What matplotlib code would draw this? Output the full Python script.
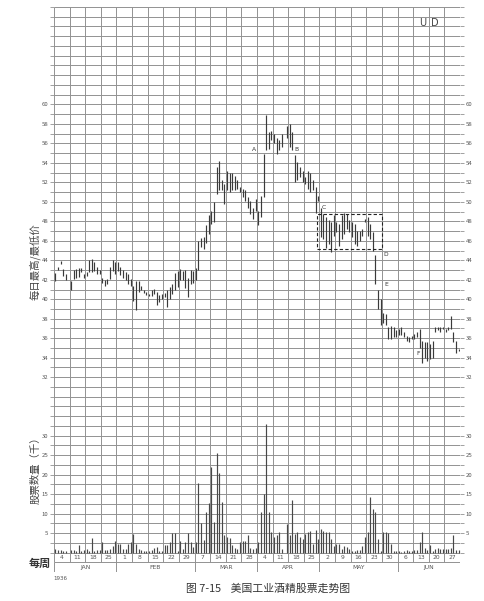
import numpy as np
import matplotlib
matplotlib.use("Agg")
import matplotlib.pyplot as plt

plt.rcParams['font.family'] = ['Noto Sans CJK SC', 'DejaVu Sans']

# trading days counted from Mon 30 Dec 1935, 6 slots per week (Mon..Sat)
day = [0, 1, 2, 3, 4,
       6, 7, 8, 9, 10, 11,
       12, 13, 14, 15, 16, 17,
       18, 19, 20, 21, 22, 23,
       24, 25, 26, 27, 28, 29,
       30, 31, 32, 33, 34, 35,
       36, 37, 38, 39, 40, 41,
       42, 43, 44, 45, 46, 47,
       48, 49, 50, 51, 52, 53,
       54, 55, 56, 57, 58, 59,
       60, 61, 62, 63, 64, 65,
       66, 67, 68, 69, 70, 71,
       72, 73, 74, 75, 76, 77,
       78, 79, 80, 81, 82, 83,
       84, 85, 86, 87, 89,
       90, 91, 92, 93, 94, 95,
       96, 97, 98, 99, 100, 101,
       102, 103, 104, 105, 106, 107,
       108, 109, 110, 111, 112, 113,
       114, 115, 116, 117, 118, 119,
       120, 121, 122, 123, 124, 125,
       126, 127, 128, 129, 130, 131,
       132, 133, 134, 135, 136, 137,
       138, 139, 140, 141, 142, 143,
       144, 145, 146, 147, 148, 149,
       150, 151, 152, 153, 154, 155]

high = [42.7, 43.3, 43.9, 43.1, 42.6,
        41.9, 43.0, 43.1, 43.2, 43.2, 42.6,
        42.8, 44.0, 44.1, 43.8, 43.3, 43.0,
        42.2, 42.0, 42.1, 43.3, 44.0, 43.8,
        43.8, 43.3, 43.0, 42.8, 42.6, 42.1,
        41.4, 41.9, 41.9, 41.4, 41.0, 40.7,
        40.5, 40.9, 41.1, 40.7, 40.4, 40.5,
        40.6, 40.9, 41.3, 41.6, 42.7, 42.9,
        43.1, 42.9, 43.0, 42.2, 43.0, 42.9,
        43.2, 46.0, 46.3, 46.4, 47.6, 48.6,
        49.1, 50.0, 53.6, 54.2, 52.2, 51.8,
        53.2, 53.0, 53.0, 52.7, 52.2, 51.5,
        51.3, 51.2, 50.5, 50.1, 49.4, 50.3,
        49.1, 50.6, 54.9, 58.9, 57.2, 57.3,
        57.0, 56.6, 56.3, 57.0, 57.8,
        58.0, 57.2, 54.8, 54.1, 53.6, 53.2,
        52.5, 53.2, 53.0, 52.2, 51.5, 50.6,
        49.4, 48.8, 48.4, 48.1, 47.9, 48.6,
        47.9, 47.7, 48.6, 48.9, 48.8, 48.1,
        47.9, 47.7, 47.0, 47.0, 47.2, 48.2,
        48.4, 47.7, 46.9, 44.5, 41.0, 40.0,
        38.6, 38.5, 37.1, 37.3, 37.2, 36.8,
        36.9, 37.1, 36.6, 36.2, 36.1, 36.2,
        36.4, 36.6, 36.9, 35.7, 35.6, 35.6,
        35.4, 35.7, 37.1, 37.1, 37.1, 37.1,
        36.9, 37.1, 38.3, 36.6, 35.7, 34.9]

low = [41.9, 43.0, 43.6, 42.4, 42.0,
       40.9, 42.1, 42.2, 42.3, 42.8, 42.2,
       42.4, 42.8, 42.8, 42.9, 42.6, 42.6,
       41.7, 41.4, 41.6, 42.1, 42.9, 42.6,
       42.9, 42.5, 42.2, 42.0, 41.6, 41.4,
       39.8, 38.9, 40.7, 40.9, 40.6, 40.4,
       40.3, 40.3, 40.5, 39.4, 39.7, 40.0,
       40.2, 39.2, 40.0, 40.5, 41.0, 41.3,
       42.0, 42.0, 41.2, 40.2, 41.6, 41.7,
       42.0, 43.0, 45.4, 45.2, 45.8, 46.7,
       47.7, 47.9, 50.8, 51.2, 51.2, 49.8,
       51.2, 51.0, 51.2, 51.2, 51.3, 51.0,
       50.5, 50.1, 49.4, 48.8, 48.2, 49.1,
       47.6, 48.4, 50.5, 55.3, 55.4, 56.3,
       56.0, 54.9, 55.3, 55.6, 56.6,
       55.6, 55.3, 52.0, 52.2, 52.5, 52.0,
       51.8, 51.3, 51.0, 51.2, 48.9, 50.1,
       46.4, 46.2, 45.3, 45.7, 44.8, 46.5,
       46.9, 45.5, 46.2, 46.7, 47.2, 46.9,
       46.4, 45.7, 45.5, 46.0, 46.5, 47.9,
       46.5, 46.2, 45.0, 41.6, 39.0, 37.4,
       37.6, 37.4, 35.9, 35.9, 36.1, 36.1,
       36.3, 36.3, 36.1, 35.7, 35.6, 35.9,
       35.9, 36.1, 35.0, 33.5, 34.0, 33.7,
       33.9, 34.0, 36.6, 36.8, 36.6, 36.9,
       36.6, 36.8, 36.9, 35.6, 34.5, 34.7]

# thousand shares
volume = [0.8, 0.6, 0.6, 0.5, 0.5,
          0.7, 0.7, 0.5, 2.0, 0.5, 0.7,
          0.9, 0.5, 3.8, 0.5, 0.7, 0.7,
          2.8, 0.7, 0.7, 0.8, 1.8, 2.9,
          2.2, 2.2, 0.8, 0.8, 2.2, 2.6,
          4.8, 2.2, 1.0, 0.7, 0.5, 0.5,
          0.5, 0.7, 1.2, 1.4, 0.5, 0.5,
          2.0, 2.0, 2.7, 5.0, 5.0, 0.5,
          2.9, 0.9, 2.7, 5.0, 2.8, 1.5,
          2.6, 17.8, 7.5, 3.1, 10.3, 12.7,
          22.0, 7.8, 25.5, 20.5, 12.9, 4.4,
          4.1, 3.7, 2.0, 1.2, 0.9, 2.7,
          2.9, 2.9, 4.4, 1.1, 0.9, 1.1,
          2.6, 10.4, 15.0, 33.0, 10.4, 5.2,
          4.1, 4.4, 5.2, 0.9, 7.4,
          4.4, 13.4, 4.8, 5.2, 3.9, 3.5,
          4.8, 5.2, 5.5, 2.2, 5.8, 3.5,
          6.1, 5.6, 5.2, 5.2, 3.5, 1.8,
          2.2, 2.2, 0.9, 1.8, 1.5, 1.0,
          0.5, 0.5, 0.7, 0.7, 1.8, 3.9,
          5.2, 14.2, 11.2, 10.4, 3.5, 0.5,
          5.2, 5.2, 5.0, 2.2, 0.5, 0.5,
          0.5, 0.2, 0.5, 0.7, 0.5, 0.5,
          0.7, 0.7, 2.6, 5.2, 1.1, 0.7,
          2.0, 0.5, 1.0, 1.2, 1.0, 1.0,
          1.0, 0.9, 1.1, 4.4, 0.7, 0.7]

weeks = ['4', '11', '18', '25', '1', '8', '15', '22', '29', '7', '14', '21', '28',
         '4', '11', '18', '25', '2', '9', '16', '23', '30', '6', '13', '20', '27']
months = ['JAN', 'FEB', 'MAR', 'APR', 'MAY', 'JUN']
month_edges = [0, 4, 9, 13, 17, 22, 26]

# trading range box and letters
box_x = (101, 126)
box_y = (45.15, 48.8)
marks = ['A', 'B', 'C', 'D', 'E', 'F']
mark_x = [77, 93, 103.5, 127.5, 127.5, 140]
mark_y = [55.4, 55.4, 49.4, 44.6, 41.5, 34.4]

gc = '#929292'
tc = '#555555'

fig = plt.figure(figsize=(4.84, 6.01), dpi=100)
fig.patch.set_facecolor('white')

L, W = 54 / 484, 406 / 484
B, T = 29 / 601, 594 / 601
H = T - B
rh = H / 58

# grid: 56 rows above the baseline plus week row and month row
g = fig.add_axes([L, B, W, H])
g.set_xlim(0, 26)
g.set_ylim(-2, 56)
g.hlines(np.arange(-2, 57), 0, 26, color=gc, lw=0.7)
g.vlines(np.arange(0, 27), -1, 56, color=gc, lw=0.7)
g.vlines(month_edges, -2, -1, color=gc, lw=0.7)
for s in g.spines.values():
    s.set_visible(False)
g.set_xticks([])
g.set_yticks(np.arange(0, 57))
g.set_yticklabels([])
g.tick_params(axis='y', left=True, right=True, length=3, width=0.6, color=gc)

for i, w in enumerate(weeks):
    g.text(i + 0.5, -0.5, w, ha='center', va='center', fontsize=4.3, color=tc,
           family='DejaVu Sans')
for i, m in enumerate(months):
    g.text((month_edges[i] + month_edges[i + 1]) / 2, -1.5, m, ha='center', va='center',
           fontsize=4.3, color=tc, family='DejaVu Sans')

# price panel
pa = fig.add_axes([L, B + 20 * rh, W, 38 * rh])
pa.patch.set_alpha(0)
pa.set_xlim(0, 156)
pa.set_ylim(32, 70)
for s in pa.spines.values():
    s.set_visible(False)
pa.set_xticks([])
pa.set_yticks(np.arange(32, 61, 2))
pa.tick_params(axis='y', length=0, pad=4, labelsize=4.3, labelcolor=tc,
               labelleft=True, labelright=True)
x = np.array(day) + 0.5
pa.vlines(x, low, high, color='#3a3a3a', lw=0.85)

pa.plot([box_x[0], box_x[1], box_x[1], box_x[0], box_x[0]],
        [box_y[0], box_y[0], box_y[1], box_y[1], box_y[0]],
        color='#222222', lw=0.8, ls=(0, (3, 2)))
for m, mx, my in zip(marks, mark_x, mark_y):
    pa.text(mx, my, m, fontsize=4.3, color='#333333', ha='center', va='center',
            family='DejaVu Sans')

pa.text(141.5, 68.4, 'U', fontsize=7, color='#444444', ha='center', va='center',
        family='DejaVu Sans')
pa.text(146.5, 68.4, 'D', fontsize=7, color='#444444', ha='center', va='center',
        family='DejaVu Sans')

# volume panel (tallest day rises above the 30 line)
va = fig.add_axes([L, B + 2 * rh, W, 12 * rh])
va.patch.set_alpha(0)
va.set_xlim(0, 156)
va.set_ylim(0, 30)
for s in va.spines.values():
    s.set_visible(False)
va.set_xticks([])
va.set_yticks(np.arange(5, 31, 5))
va.tick_params(axis='y', length=0, pad=4, labelsize=4.3, labelcolor=tc,
               labelleft=True, labelright=True)
va.vlines(x, 0, volume, color='#484848', lw=0.85, clip_on=False)

# side titles and caption
fig.text(35 / 484, 1 - 262 / 601, '每日最高/最低价', rotation=90, ha='center', va='center',
         fontsize=7.5, color='#444444')
fig.text(35 / 484, 1 - 468 / 601, '股票数量（千）', rotation=90, ha='center', va='center',
         fontsize=7.5, color='#444444')
fig.text(40 / 484, 1 - 563 / 601, '每周', ha='center', va='center', fontsize=8,
         color='#333333', fontweight='bold')
fig.text(60 / 484, 1 - 578 / 601, '1936', ha='center', va='center', fontsize=4,
         color=tc, family='DejaVu Sans')
fig.text(268 / 484, 1 - 589 / 601, '图 7-15    美国工业酒精股票走势图', ha='center',
         va='center', fontsize=7.8, color='#333333')

fig.savefig('out.png', dpi=100)
